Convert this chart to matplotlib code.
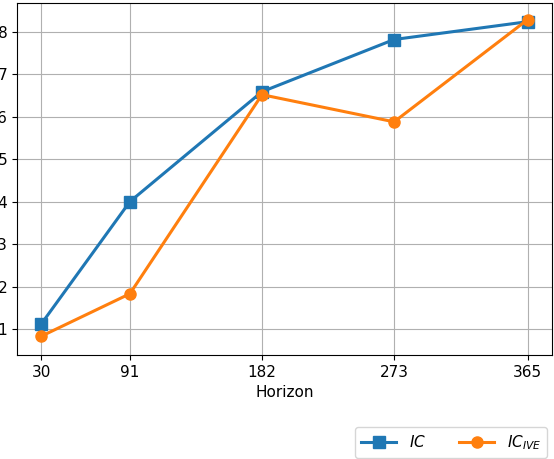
import matplotlib
matplotlib.use("Agg")
import matplotlib.pyplot as plt

horizons = [30, 91, 182, 273, 365]
ic = [0.0112, 0.0400, 0.0659, 0.0782, 0.0824]
ic_ive = [0.0083, 0.0183, 0.0652, 0.0588, 0.0829]
y_ticks = [0.01, 0.02, 0.03, 0.04, 0.05, 0.06, 0.07, 0.08]

fig = plt.figure(figsize=(5.54, 4.59), dpi=100)
ax = fig.add_axes([17 / 554, 1 - 355 / 459, 535 / 554, 352 / 459])

ax.plot(horizons, ic, marker="s", color="#1f77b4", linewidth=2.2, markersize=8, label="$IC$")
ax.plot(horizons, ic_ive, marker="o", color="#ff7f0e", linewidth=2.2, markersize=8, label="$IC_{IVE}$")

ax.set_xticks(horizons)
ax.set_xticklabels([str(h) for h in horizons])
ax.set_yticks(y_ticks)
ax.set_yticklabels([f"{v:.2f}" for v in y_ticks])
ax.set_ylim(0.00387, 0.0868)
ax.grid(True, color="#b0b0b0", linewidth=0.8)
ax.set_xlabel("Horizon", fontsize=11)
ax.tick_params(labelsize=11)

fig.legend(loc="lower right", bbox_to_anchor=(547 / 554, 1 / 459), ncol=2,
           borderaxespad=0, fontsize=11, columnspacing=2.2, handlelength=2.3)

fig.savefig("out.png", dpi=100)
